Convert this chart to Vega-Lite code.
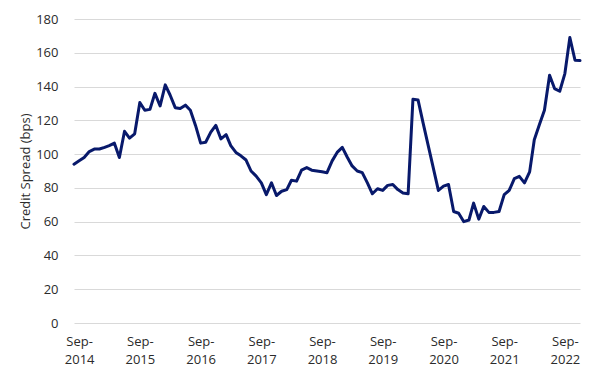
{
  "$schema": "https://vega.github.io/schema/vega-lite/v6.json",
  "autosize": {"type": "none"},
  "padding": {"left": 74, "top": 19, "right": 20, "bottom": 54},
  "width": 506,
  "height": 304,
  "background": "white",
  "config": {
    "view": {"stroke": null},
    "font": "Open Sans",
    "axis": {"labelFont": "Open Sans", "titleFont": "Open Sans", "labelColor": "#2b2b2b", "titleColor": "#2b2b2b", "labelFontSize": 13, "titleFontSize": 13, "titleFontWeight": "normal"}
  },
  "data": {
    "values": [
      {"date": "2014-08-01", "spread": 94},
      {"date": "2014-09-01", "spread": 96},
      {"date": "2014-10-01", "spread": 98},
      {"date": "2014-11-01", "spread": 101.5},
      {"date": "2014-12-01", "spread": 103},
      {"date": "2015-01-01", "spread": 103},
      {"date": "2015-02-01", "spread": 104},
      {"date": "2015-03-01", "spread": 105},
      {"date": "2015-04-01", "spread": 106.5},
      {"date": "2015-05-01", "spread": 98},
      {"date": "2015-06-01", "spread": 113.5},
      {"date": "2015-07-01", "spread": 109.5},
      {"date": "2015-08-01", "spread": 112},
      {"date": "2015-09-01", "spread": 130.5},
      {"date": "2015-10-01", "spread": 126},
      {"date": "2015-11-01", "spread": 126.5},
      {"date": "2015-12-01", "spread": 136},
      {"date": "2016-01-01", "spread": 128.5},
      {"date": "2016-02-01", "spread": 141},
      {"date": "2016-03-01", "spread": 135},
      {"date": "2016-04-01", "spread": 127.5},
      {"date": "2016-05-01", "spread": 127},
      {"date": "2016-06-01", "spread": 129},
      {"date": "2016-07-01", "spread": 126},
      {"date": "2016-08-01", "spread": 117},
      {"date": "2016-09-01", "spread": 106.5},
      {"date": "2016-10-01", "spread": 107},
      {"date": "2016-11-01", "spread": 113},
      {"date": "2016-12-01", "spread": 117},
      {"date": "2017-01-01", "spread": 109},
      {"date": "2017-02-01", "spread": 111.5},
      {"date": "2017-03-01", "spread": 105},
      {"date": "2017-04-01", "spread": 101},
      {"date": "2017-05-01", "spread": 99},
      {"date": "2017-06-01", "spread": 96.5},
      {"date": "2017-07-01", "spread": 90},
      {"date": "2017-08-01", "spread": 87},
      {"date": "2017-09-01", "spread": 83},
      {"date": "2017-10-01", "spread": 76},
      {"date": "2017-11-01", "spread": 83},
      {"date": "2017-12-01", "spread": 75.5},
      {"date": "2018-01-01", "spread": 78},
      {"date": "2018-02-01", "spread": 79},
      {"date": "2018-03-01", "spread": 84.5},
      {"date": "2018-04-01", "spread": 84},
      {"date": "2018-05-01", "spread": 90.5},
      {"date": "2018-06-01", "spread": 92},
      {"date": "2018-07-01", "spread": 90.5},
      {"date": "2018-08-01", "spread": 90},
      {"date": "2018-09-01", "spread": 89.5},
      {"date": "2018-10-01", "spread": 89},
      {"date": "2018-11-01", "spread": 96},
      {"date": "2018-12-01", "spread": 101},
      {"date": "2019-01-01", "spread": 104},
      {"date": "2019-02-01", "spread": 98},
      {"date": "2019-03-01", "spread": 93},
      {"date": "2019-04-01", "spread": 90},
      {"date": "2019-05-01", "spread": 89},
      {"date": "2019-06-01", "spread": 83},
      {"date": "2019-07-01", "spread": 76.5},
      {"date": "2019-08-01", "spread": 79.5},
      {"date": "2019-09-01", "spread": 78.5},
      {"date": "2019-10-01", "spread": 81.5},
      {"date": "2019-11-01", "spread": 82},
      {"date": "2019-12-01", "spread": 79},
      {"date": "2020-01-01", "spread": 77},
      {"date": "2020-02-01", "spread": 76.5},
      {"date": "2020-03-01", "spread": 132.5},
      {"date": "2020-04-01", "spread": 132},
      {"date": "2020-05-01", "spread": 118.5},
      {"date": "2020-06-01", "spread": 105},
      {"date": "2020-07-01", "spread": 92},
      {"date": "2020-08-01", "spread": 78.5},
      {"date": "2020-09-01", "spread": 81},
      {"date": "2020-10-01", "spread": 82},
      {"date": "2020-11-01", "spread": 66},
      {"date": "2020-12-01", "spread": 65},
      {"date": "2021-01-01", "spread": 60},
      {"date": "2021-02-01", "spread": 61},
      {"date": "2021-03-01", "spread": 71},
      {"date": "2021-04-01", "spread": 61.5},
      {"date": "2021-05-01", "spread": 69},
      {"date": "2021-06-01", "spread": 65.5},
      {"date": "2021-07-01", "spread": 65.5},
      {"date": "2021-08-01", "spread": 66},
      {"date": "2021-09-01", "spread": 76},
      {"date": "2021-10-01", "spread": 78.5},
      {"date": "2021-11-01", "spread": 85.5},
      {"date": "2021-12-01", "spread": 86.8},
      {"date": "2022-01-01", "spread": 83},
      {"date": "2022-02-01", "spread": 89.5},
      {"date": "2022-03-01", "spread": 108.5},
      {"date": "2022-04-01", "spread": 117.5},
      {"date": "2022-05-01", "spread": 126},
      {"date": "2022-06-01", "spread": 146.7},
      {"date": "2022-07-01", "spread": 138.8},
      {"date": "2022-08-01", "spread": 137.2},
      {"date": "2022-09-01", "spread": 147.7},
      {"date": "2022-10-01", "spread": 169},
      {"date": "2022-11-01", "spread": 155.6},
      {"date": "2022-12-01", "spread": 155.4}
    ]
  },
  "mark": {"type": "line", "color": "#08196b", "strokeWidth": 3, "strokeJoin": "round", "strokeCap": "round"},
  "encoding": {
    "x": {
      "field": "date",
      "type": "temporal",
      "scale": {
        "type": "utc",
        "domain": [
          {"year": 2014, "month": 8, "date": 1, "utc": true},
          {"year": 2022, "month": 12, "date": 1, "utc": true}
        ]
      },
      "axis": {
        "title": null,
        "grid": false,
        "domain": false,
        "ticks": false,
        "labelPadding": 12,
        "labelBaseline": "top",
        "labelLineHeight": 18,
        "labelOverlap": false,
        "labelFlush": false,
        "values": [
          {"year": 2014, "month": 9, "date": 1, "utc": true},
          {"year": 2015, "month": 9, "date": 1, "utc": true},
          {"year": 2016, "month": 9, "date": 1, "utc": true},
          {"year": 2017, "month": 9, "date": 1, "utc": true},
          {"year": 2018, "month": 9, "date": 1, "utc": true},
          {"year": 2019, "month": 9, "date": 1, "utc": true},
          {"year": 2020, "month": 9, "date": 1, "utc": true},
          {"year": 2021, "month": 9, "date": 1, "utc": true},
          {"year": 2022, "month": 9, "date": 1, "utc": true}
        ],
        "labelExpr": "[utcFormat(datum.value, '%b-'), utcFormat(datum.value, '%Y')]"
      }
    },
    "y": {
      "field": "spread",
      "type": "quantitative",
      "scale": {"domain": [0, 180], "nice": false},
      "axis": {
        "title": "Credit Spread (bps)",
        "values": [0, 20, 40, 60, 80, 100, 120, 140, 160, 180],
        "grid": true,
        "gridColor": "#d9d9d9",
        "gridWidth": 1,
        "domain": false,
        "ticks": false,
        "labelPadding": 16,
        "titleX": -49,
        "titleY": 152,
        "titleAngle": -90,
        "titleAlign": "center",
        "titleBaseline": "middle"
      }
    }
  }
}
